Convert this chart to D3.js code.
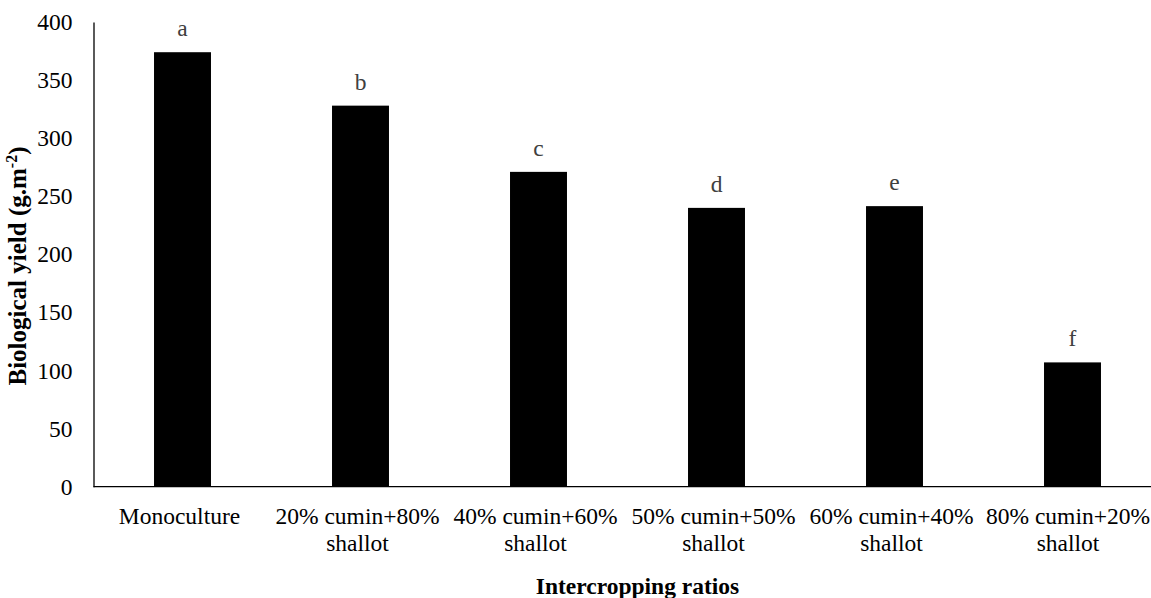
<!DOCTYPE html>
<html>
<head>
<meta charset="utf-8">
<script src="https://cdn.jsdelivr.net/npm/d3@7"></script>
<style>
  html, body { margin: 0; padding: 0; background: #fff; }
  svg { display: block; }
  svg text { font-family: "Liberation Serif", "Times New Roman", Times, serif; }
</style>
</head>
<body>
<svg id="chart" width="1151" height="598"></svg>
<script>
// Biological yield by intercropping ratio
const categories = [
  ["Monoculture"],
  ["20% cumin+80%", "shallot"],
  ["40% cumin+60%", "shallot"],
  ["50% cumin+50%", "shallot"],
  ["60% cumin+40%", "shallot"],
  ["80% cumin+20%", "shallot"]
];
const yieldValues = [374, 328, 271, 240, 241.5, 107];
const groupLetters = ["a", "b", "c", "d", "e", "f"];
const yTicks = [0, 50, 100, 150, 200, 250, 300, 350, 400];

const FONT = "'Liberation Serif', 'Times New Roman', Times, serif";
const W = 1151;
const svg = d3.select("#chart");
const plotLeft = 93.5, plotRight = 1161.5, plotTop = 22, plotBottom = 486.7;

const keys = categories.map((c, i) => i);
const x = d3.scaleBand().domain(keys).range([plotLeft, plotRight])
  .paddingInner(0.68).paddingOuter(0.34);
const y = d3.scaleLinear().domain([0, 400]).range([plotBottom, plotTop]);

// y axis
const yAxis = svg.append("g").attr("transform", `translate(${plotLeft},0)`)
  .call(d3.axisLeft(y).tickValues(yTicks).tickSize(0).tickPadding(21))
  .attr("font-family", FONT).attr("font-size", 23.5);
yAxis.select(".domain").attr("stroke", "#000").attr("stroke-width", 1.3);
yAxis.selectAll("text").attr("fill", "#000");

// bars
svg.append("g").selectAll("rect").data(yieldValues).join("rect")
  .attr("x", (d, i) => x(i))
  .attr("width", x.bandwidth())
  .attr("y", d => y(d))
  .attr("height", d => y(0) - y(d))
  .attr("fill", "#000");

// x axis baseline
svg.append("line").attr("x1", plotLeft).attr("x2", W)
  .attr("y1", plotBottom).attr("y2", plotBottom)
  .attr("stroke", "#000").attr("stroke-width", 1.3);

// x category labels, kept inside the right edge
const xl = svg.append("g").attr("font-family", FONT).attr("font-size", 23.5);
categories.forEach((lines, i) => {
  let cx = x(i) + x.bandwidth() / 2 - 3;
  const t = xl.append("text")
    .attr("y", 524)
    .attr("text-anchor", "middle")
    .attr("fill", "#000");
  const spans = lines.map((ln, k) => t.append("tspan")
    .attr("dy", k === 0 ? 0 : 27).text(ln));
  const widest = d3.max(spans, s => s.node().getComputedTextLength());
  if (cx + widest / 2 > W - 1) cx = W - 1 - widest / 2;
  spans.forEach(s => s.attr("x", cx));
});

// significance letters
svg.append("g").attr("font-family", FONT).attr("font-size", 23.5)
  .selectAll("text").data(yieldValues).join("text")
  .attr("x", (d, i) => x(i) + x.bandwidth() / 2)
  .attr("y", d => y(d) - 16)
  .attr("text-anchor", "middle")
  .attr("fill", "#404040")
  .text((d, i) => groupLetters[i]);

// axis titles
svg.append("text")
  .attr("x", 637.5).attr("y", 594)
  .attr("text-anchor", "middle")
  .attr("font-family", FONT)
  .attr("font-size", 23.5).attr("font-weight", "bold")
  .text("Intercropping ratios");

const yt = svg.append("text")
  .attr("transform", "translate(26,266) rotate(-90)")
  .attr("text-anchor", "middle")
  .attr("font-family", FONT)
  .attr("font-size", 25).attr("font-weight", "bold");
yt.append("tspan").text("Biological yield (g.m");
yt.append("tspan").attr("dy", -9).attr("font-size", 16).text("-2");
yt.append("tspan").attr("dy", 9).text(")");
</script>
</body>
</html>
